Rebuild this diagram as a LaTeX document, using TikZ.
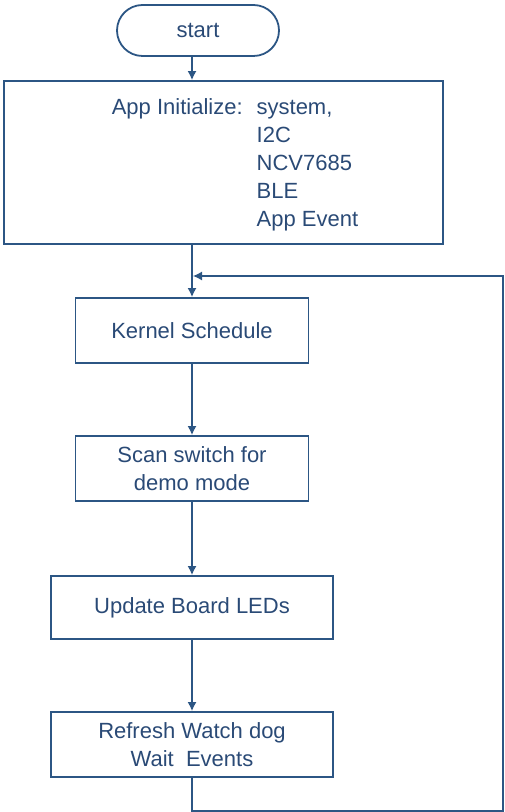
\documentclass[tikz,border=0pt]{standalone}
\usepackage{fontspec}
\setmainfont{Liberation Sans}
\usetikzlibrary{arrows.meta}
\definecolor{flowline}{RGB}{44,86,132}
\definecolor{flowtext}{RGB}{42,74,118}
\tikzset{
  box/.style={draw=flowline, line width=0.9pt, rectangle, text=flowtext, align=center, inner sep=0pt},
  pill/.style={box, rounded corners=12.75pt},
  flow/.style={draw=flowline, line width=0.75pt, -{Latex[length=4.5pt,width=4.5pt]}},
}
\begin{document}
\begin{tikzpicture}[x=0.5pt, y=-0.5pt, font=\fontsize{11}{14}\selectfont]
\useasboundingbox (0,0) rectangle (504,812);

% Start
\node[pill, minimum width=81pt, minimum height=25.5pt] (start) at (198,30.5) {start};

% Initialisierung
\node[box, minimum width=219.5pt, minimum height=81.5pt] (init) at (223.5,162.5) {};
\node[text=flowtext, inner sep=0pt] (initText) at (235,165) {%
  \begin{tabular}{@{}l@{\hspace{7pt}}l@{}}
  App Initialize: & system,\\
   & I2C\\
   & NCV7685\\
   & BLE\\
   & App Event
  \end{tabular}};

% Hauptschleife
\node[box, minimum width=116.5pt, minimum height=32.5pt] (kernel) at (192,330.5) {Kernel Schedule};
\node[box, minimum width=116.5pt, minimum height=32.5pt] (scan) at (192,468.5) {Scan switch for\\demo mode};
\node[box, minimum width=141pt, minimum height=31.5pt] (update) at (192,607.5) {Update Board LEDs};
\node[box, minimum width=141pt, minimum height=32.5pt] (refresh) at (192,744.5) {Refresh Watch dog\\Wait\ \ Events};

% Hilfspunkte
\coordinate (spine) at (192,0);
\coordinate (loopIn) at (193,276);
\coordinate (loopRight) at (503,811);

% Verbindungen
\draw[flow] (start.south -| spine) -- (init.north -| spine);
\draw[flow] (init.south -| spine) -- (kernel.north);
\draw[flow] (kernel) -- (scan);
\draw[flow] (scan) -- (update);
\draw[flow] (update) -- (refresh);

% Rueckfuehrung
\draw[flow, line width=0.6pt] (refresh.south) |- (loopRight) |- (loopIn);

\end{tikzpicture}
\end{document}
